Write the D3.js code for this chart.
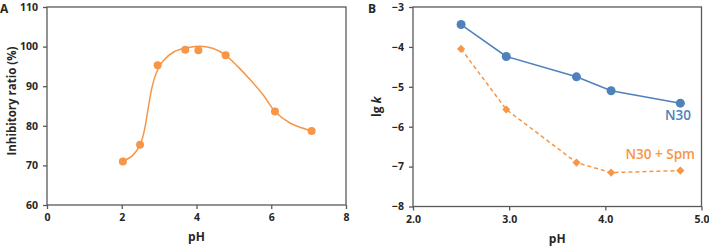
<!DOCTYPE html>
<html lang="en">
<head>
<meta charset="UTF-8">
<title>Inhibitory ratio and lg k vs pH</title>
<script src="https://d3js.org/d3.v7.min.js"></script>
<style>
    body { margin: 0; background: #fff; }
    svg text { font-family: "Open Sans", "Noto Sans", sans-serif; font-weight: bold; fill: #262626; }
    .axis path, .axis line { stroke: #595959; stroke-width: 1.3; }
    .axis text { font-size: 10.5px; }
</style>
</head>
<body>
<div id="chart"></div>
<script>
    // Panel A: measured points
    const phA = [2.03, 2.49, 2.96, 3.70, 4.05, 4.78, 6.1, 7.08];
    const ratioA = [71.0, 75.2, 95.3, 99.2, 99.1, 97.8, 83.6, 78.7];
    // Panel A: smooth fitted curve
    const fitPh = [2.03, 2.3, 2.49, 2.6, 2.7, 2.8, 2.92, 3.1, 3.4, 3.8, 4.12, 4.45, 4.78, 5.1, 5.45, 5.8, 6.1, 6.5, 7.08];
    const fitRatio = [71.0, 72.6, 75.2, 78.6, 84.0, 89.3, 93.2, 96.3, 98.7, 99.8, 100.1, 99.5, 97.8, 95.0, 91.5, 87.6, 83.6, 80.7, 78.7];
    const ticksA_x = [0, 2, 4, 6, 8];
    const ticksA_y = [60, 70, 80, 90, 100, 110];

    // Panel B
    const phB = [2.5, 2.97, 3.70, 4.06, 4.78];
    const lgkN30 = [-3.44, -4.24, -4.75, -5.10, -5.41];
    const lgkSpm = [-4.05, -5.57, -6.90, -7.15, -7.10];
    const ticksB_x = [2.0, 3.0, 4.0, 5.0];
    const ticksB_y = [-8, -7, -6, -5, -4, -3];

    const orange = "#F79646";
    const blue = "#4F81BD";

    const svg = d3.select("#chart").append("svg")
        .attr("width", 709).attr("height", 249);

    // ---------- Panel A ----------
    const xA = d3.scaleLinear().domain([0, 8]).range([47, 346]);
    const yA = d3.scaleLinear().domain([60, 110]).range([205, 7]);

    // plot box
    svg.append("rect")
        .attr("x", xA(0)).attr("y", yA(110))
        .attr("width", xA(8) - xA(0)).attr("height", yA(60) - yA(110))
        .attr("fill", "none").attr("stroke", "#595959").attr("stroke-width", 1.3);

    svg.append("g").attr("class", "axis")
        .attr("transform", `translate(0,${yA(60)})`)
        .call(d3.axisBottom(xA).tickValues(ticksA_x).tickSize(4).tickPadding(5).tickFormat(d3.format("d")))
        .call(g => g.select(".domain").remove());
    svg.append("g").attr("class", "axis")
        .attr("transform", `translate(${xA(0)},0)`)
        .call(d3.axisLeft(yA).tickValues(ticksA_y).tickSize(4).tickPadding(5).tickFormat(d3.format("d")))
        .call(g => g.select(".domain").remove());

    const fitData = fitPh.map((p, i) => [p, fitRatio[i]]);
    svg.append("path")
        .datum(fitData)
        .attr("fill", "none")
        .attr("stroke", orange)
        .attr("stroke-width", 1.5)
        .attr("d", d3.line().x(d => xA(d[0])).y(d => yA(d[1])).curve(d3.curveCatmullRom.alpha(0.5)));

    svg.append("g").selectAll("circle")
        .data(phA.map((p, i) => [p, ratioA[i]]))
        .join("circle")
        .attr("cx", d => xA(d[0])).attr("cy", d => yA(d[1]))
        .attr("r", 4).attr("fill", orange);

    svg.append("text").attr("x", xA(4)).attr("y", 241)
        .attr("text-anchor", "middle").attr("font-size", 12).text("pH");
    svg.append("text")
        .attr("transform", `translate(16,${(yA(60) + yA(110)) / 2 - 5}) rotate(-90)`)
        .attr("text-anchor", "middle").attr("font-size", 11.5).text("Inhibitory ratio (%)");
    svg.append("text").attr("x", 0).attr("y", 13).attr("font-size", 12).text("A");

    // ---------- Panel B ----------
    const xB = d3.scaleLinear().domain([2, 5]).range([413, 701.5]);
    const yB = d3.scaleLinear().domain([-8, -3]).range([206.5, 7]);

    svg.append("rect")
        .attr("x", xB(2)).attr("y", yB(-3))
        .attr("width", xB(5) - xB(2)).attr("height", yB(-8) - yB(-3))
        .attr("fill", "none").attr("stroke", "#595959").attr("stroke-width", 1.3);

    svg.append("g").attr("class", "axis")
        .attr("transform", `translate(0,${yB(-8)})`)
        .call(d3.axisBottom(xB).tickValues(ticksB_x).tickSize(4).tickPadding(5).tickFormat(d3.format(".1f")))
        .call(g => g.select(".domain").remove());
    svg.append("g").attr("class", "axis")
        .attr("transform", `translate(${xB(2)},0)`)
        .call(d3.axisLeft(yB).tickValues(ticksB_y).tickSize(4).tickPadding(5).tickFormat(d3.format("d")))
        .call(g => g.select(".domain").remove());

    const line = d3.line().x(d => xB(d[0])).y(d => yB(d[1]));
    const n30 = phB.map((p, i) => [p, lgkN30[i]]);
    const spm = phB.map((p, i) => [p, lgkSpm[i]]);

    svg.append("path").datum(spm)
        .attr("fill", "none").attr("stroke", orange).attr("stroke-width", 1.5)
        .attr("stroke-dasharray", "4,3").attr("d", line);
    svg.append("g").selectAll("path")
        .data(spm)
        .join("path")
        .attr("transform", d => `translate(${xB(d[0])},${yB(d[1])})`)
        .attr("d", d3.symbol(d3.symbolDiamond2, 42))
        .attr("fill", orange);

    svg.append("path").datum(n30)
        .attr("fill", "none").attr("stroke", blue).attr("stroke-width", 1.5)
        .attr("d", line);
    svg.append("g").selectAll("circle")
        .data(n30)
        .join("circle")
        .attr("cx", d => xB(d[0])).attr("cy", d => yB(d[1]))
        .attr("r", 4.5).attr("fill", blue);

    svg.append("text").attr("x", 691).attr("y", 119.5)
        .attr("text-anchor", "end").attr("font-size", 13.5)
        .style("fill", blue).style("font-weight", "600").text("N30");
    svg.append("text").attr("x", 695).attr("y", 158.5)
        .attr("text-anchor", "end").attr("font-size", 13.5)
        .style("fill", orange).style("font-weight", "600").text("N30 + Spm");

    svg.append("text").attr("x", xB(3.5)).attr("y", 243)
        .attr("text-anchor", "middle").attr("font-size", 12).text("pH");
    const lgk = svg.append("text")
        .attr("transform", `translate(381,${(yB(-8) + yB(-3)) / 2}) rotate(-90)`)
        .attr("text-anchor", "middle").attr("font-size", 12);
    lgk.append("tspan").text("lg ");
    lgk.append("tspan").attr("font-style", "italic").text("k");
    svg.append("text").attr("x", 368).attr("y", 13).attr("font-size", 12).text("B");
</script>
</body>
</html>
